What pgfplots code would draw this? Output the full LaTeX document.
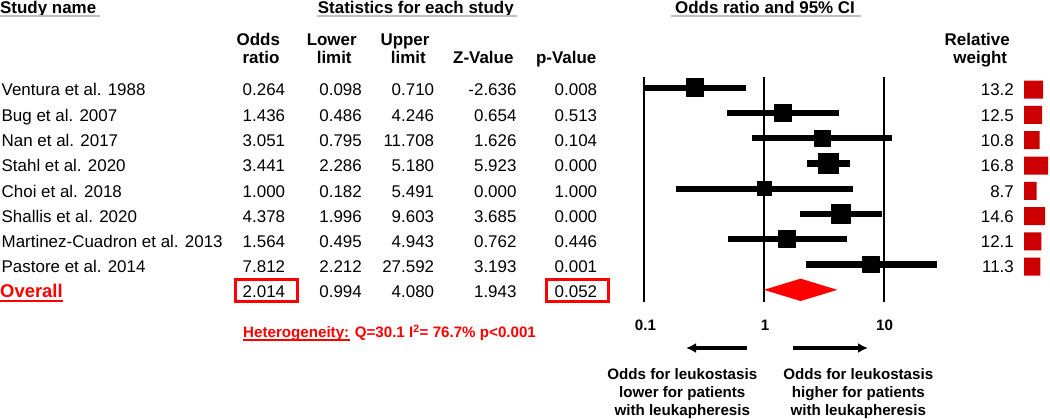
\documentclass[border=0pt]{standalone}
\usepackage{pgfplots}
\pgfplotsset{compat=1.18}
\usepackage{pgfplotstable}
\usepackage{fontspec}
\setmainfont{Liberation Sans}
\usetikzlibrary{arrows.meta}
\definecolor{wred}{RGB}{204,0,0}
\definecolor{hgrey}{RGB}{190,190,190}
\definecolor{ored}{RGB}{255,0,0}

\pgfplotstableread{
row or lo hi w
1 0.264 0.098 0.710 13.2
2 1.436 0.486 4.246 12.5
3 3.051 0.795 11.708 10.8
4 3.441 2.286 5.180 16.8
5 1.000 0.182 5.491 8.7
6 4.378 1.996 9.603 14.6
7 1.564 0.495 4.943 12.1
8 7.812 2.212 27.592 11.3
}\studies

\begin{document}
\begin{tikzpicture}
\begin{scope}[x=1bp,y=-1bp,
  n/.style={font=\fontsize{17}{20}\selectfont, inner sep=0pt},
  b/.style={font=\fontsize{17}{20}\selectfont\bfseries, inner sep=0pt, anchor=base},
  s/.style={font=\fontsize{15.2}{18}\selectfont\bfseries, inner sep=0pt, anchor=base}]
\useasboundingbox (0,0) rectangle (1050,419);

% ---- headers
\node[b, anchor=base west] at (0,13.3) {Study name};
\draw[hgrey, line width=2bp] (0,16.3) -- (100,16.3);
\node[b] at (415.8,13.3) {Statistics for each study};
\draw[hgrey, line width=2bp] (316.7,16.3) -- (516.7,16.3);
\node[b] at (765,13.3) {Odds ratio and 95\% CI};
\draw[hgrey, line width=2bp] (670.7,16.3) -- (860.7,16.3);

\node[b] at (258.3,45) {Odds};
\node[b] at (261,63.3) {ratio};
\node[b] at (331.7,45) {Lower};
\node[b] at (334.2,63.3) {limit};
\node[b] at (405,45) {Upper};
\node[b] at (408.3,63.3) {limit};
\node[b] at (483.3,63.3) {Z-Value};
\node[b] at (566.2,63.3) {p-Value};
\node[b] at (977.2,45) {Relative};
\node[b] at (980.3,63.3) {weight};

% ---- study rows
\foreach \y/\name/\o/\l/\u/\z/\p/\w in {
  95.8/Ventura et al. 1988/0.264/0.098/0.710/-2.636/0.008/13.2,
  121.1/Bug et al. 2007/1.436/0.486/4.246/0.654/0.513/12.5,
  146.4/Nan et al. 2017/3.051/0.795/11.708/1.626/0.104/10.8,
  171.7/Stahl et al. 2020/3.441/2.286/5.180/5.923/0.000/16.8,
  197.0/Choi et al. 2018/1.000/0.182/5.491/0.000/1.000/8.7,
  222.3/Shallis et al. 2020/4.378/1.996/9.603/3.685/0.000/14.6,
  247.6/Martinez-Cuadron et al. 2013/1.564/0.495/4.943/0.762/0.446/12.1,
  272.9/Pastore et al. 2014/7.812/2.212/27.592/3.193/0.001/11.3}{
  \node[n, anchor=base west] at (1.5,\y) {\name};
  \node[n, anchor=base east] at (285.3,\y) {\o};
  \node[n, anchor=base east] at (362,\y) {\l};
  \node[n, anchor=base east] at (434.3,\y) {\u};
  \node[n, anchor=base east] at (516.7,\y) {\z};
  \node[n, anchor=base east] at (597.3,\y) {\p};
  \node[n, anchor=base east] at (1014,\y) {\w};
}

% ---- overall row
\node[font=\fontsize{18.5}{21}\selectfont\bfseries, inner sep=0pt, anchor=base west, text=ored] at (0,297.3) {Overall};
\draw[ored, line width=2bp] (0,300.8) -- (62.7,300.8);
\node[n, anchor=base east] at (285.3,297.3) {2.014};
\node[n, anchor=base east] at (362,297.3) {0.994};
\node[n, anchor=base east] at (434.3,297.3) {4.080};
\node[n, anchor=base east] at (516.7,297.3) {1.943};
\node[n, anchor=base east] at (597.3,297.3) {0.052};
\draw[ored, line width=2.8bp] (235.3,279.4) rectangle (297.7,301.8);
\draw[ored, line width=2.8bp] (546.3,279.4) rectangle (608.7,301.8);

% ---- heterogeneity
\node[s, anchor=base west, text=ored] at (243,337.3) {Heterogeneity: Q=30.1 I\textsuperscript{2}= 76.7\% p<0.001};
\draw[ored, line width=1.8bp] (243,340.3) -- (350,340.3);

% ---- axis labels
\node[s] at (645.5,330.7) {0.1};
\node[s] at (765,330.7) {1};
\node[s] at (884.5,330.7) {10};
\draw[line width=3.3bp, -{Latex[length=10bp,width=10bp]}] (747,348) -- (686,348);
\draw[line width=3.3bp, -{Latex[length=10bp,width=10bp]}] (793,348) -- (868,348);
\node[s] at (682.3,379.3) {Odds for leukostasis};
\node[s] at (682.3,397.3) {lower for patients};
\node[s] at (682.3,415) {with leukapheresis};
\node[s] at (858.3,379.3) {Odds for leukostasis};
\node[s] at (858.3,397.3) {higher for patients};
\node[s] at (858.3,415) {with leukapheresis};
\end{scope}

% ---- forest plot
\begin{axis}[at={(644.4bp,-301.7bp)}, anchor=south west, scale only axis,
  width=359.4bp, height=225.2bp, xmode=log, xmin=0.1, xmax=100,
  ymin=0.557, ymax=9.470, y dir=reverse, hide axis, clip=false]
\addplot[black, line width=2bp] coordinates {(0.1,0.557) (0.1,9.47)};
\addplot[black, line width=2bp] coordinates {(1,0.557) (1,9.47)};
\addplot[black, line width=2bp] coordinates {(10,0.557) (10,9.47)};
\addplot[black, line width=6.3bp] coordinates {(0.098,1) (0.710,1)};
\addplot[black, line width=6.3bp] coordinates {(0.486,2) (4.246,2)};
\addplot[black, line width=6.3bp] coordinates {(0.795,3) (11.708,3)};
\addplot[black, line width=6.3bp] coordinates {(2.286,4) (5.180,4)};
\addplot[black, line width=6.3bp] coordinates {(0.182,5) (5.491,5)};
\addplot[black, line width=6.3bp] coordinates {(1.996,6) (9.603,6)};
\addplot[black, line width=6.3bp] coordinates {(0.495,7) (4.943,7)};
\addplot[black, line width=6.3bp] coordinates {(2.212,8) (27.592,8)};
\addplot[scatter, only marks, mark=square*,
  scatter/use mapped color={draw=black, fill=black},
  mark options={line width=1.2bp, line join=round},
  visualization depends on={2.6*sqrt(\thisrow{w})-0.6 \as \msize},
  scatter/@pre marker code/.append style={/tikz/mark size=\msize}]
  table[x=or, y=row] {\studies};
\addplot[fill=ored, draw=none] coordinates {(0.994,9) (2.014,8.557) (4.080,9) (2.014,9.443)} -- cycle;
\end{axis}

% ---- relative weight bars
\begin{axis}[at={(1024bp,-303.7bp)}, anchor=south west, scale only axis,
  width=26bp, height=225.2bp, xmin=0, xmax=18.06,
  ymin=0.557, ymax=9.470, y dir=reverse, hide axis, clip=false]
\addplot[xbar, bar width=18bp, fill=wred, draw=none] table[x=w, y=row] {\studies};
\end{axis}
\end{tikzpicture}
\end{document}
